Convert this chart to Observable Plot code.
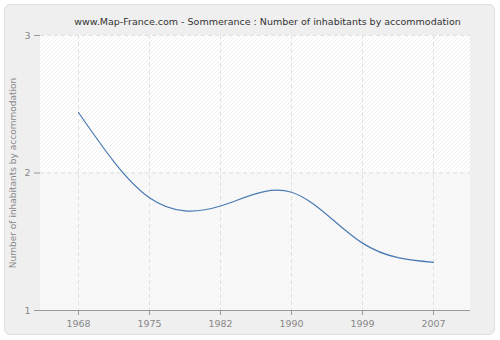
<!DOCTYPE html>
<html><head><meta charset="utf-8">
<script src="https://cdn.jsdelivr.net/npm/d3@7"></script>
<script src="https://cdn.jsdelivr.net/npm/@observablehq/plot@0.6"></script>
<style>
body{margin:0;background:#fff;}
#wrap{position:relative;width:500px;height:340px;}
#panel{position:absolute;left:4px;top:4px;width:491px;height:331px;background:#efefef;border:1px solid #dedede;border-radius:6px;box-sizing:border-box}
#chart{position:absolute;left:0;top:0}
</style></head><body>
<div id="wrap"><div id="panel"></div><div id="chart"></div></div>
<script>
const years = ["1968","1975","1982","1990","1999","2007"];
const values = [2.44, 1.82, 1.76, 1.86, 1.49, 1.35];
const yTicks = [1, 2, 3];
const titleText = "www.Map-France.com - Sommerance : Number of inhabitants by accommodation";
const yLabel = "Number of inhabitants by accommodation";

const data = years.map((y, i) => ({year: y, value: values[i]}));
const bandTop = [{y1: yTicks[1], y2: yTicks[2]}];
const bandBottom = [{y1: yTicks[0], y2: yTicks[1]}];
const font = "DejaVu Sans, Verdana, sans-serif";

const chart = Plot.plot({
  width: 500,
  height: 340,
  marginLeft: 40,
  marginRight: 30,
  marginTop: 35,
  marginBottom: 30,
  style: {background: "transparent", fontFamily: font, fontSize: "9px", color: "#888"},
  x: {type: "point", domain: years, padding: 0.5, label: null},
  y: {domain: [1, 3], ticks: yTicks, label: null, tickFormat: d => String(d)},
  marks: [
    Plot.rect(bandTop, {y1: "y1", y2: "y2", fill: "#ffffff", className: "band-top"}),
    Plot.rect(bandBottom, {y1: "y1", y2: "y2", fill: "#f8f8f8", className: "band-bottom"}),
    Plot.ruleX(years, {x: d => d, stroke: "#e0e0e0", strokeDasharray: "4,3"}),
    Plot.ruleY(yTicks.slice(1), {y: d => d, stroke: "#e0e0e0", strokeDasharray: "4,3"}),
    Plot.axisX({ticks: years, tickSize: 5, tickPadding: 5, stroke: "#999", fill: "#888", fontSize: "9.5px"}),
    Plot.axisY({ticks: yTicks, tickSize: 6, tickPadding: 4, stroke: "#999", fill: "#888", fontSize: "9.5px", tickFormat: d => String(d)}),
    Plot.ruleY([yTicks[0]], {stroke: "#999"}),
    Plot.ruleX([years[0]], {x: () => null, stroke: "#999", frameAnchor: "left"}),
    Plot.lineY(data, {x: "year", y: "value", stroke: "#4a7ab2", strokeWidth: 1.2, curve: "natural"}),
    Plot.text([titleText], {text: d => d, frameAnchor: "top", textAnchor: "middle", dy: -17, dx: 12, fill: "#333", fontSize: "9.5px"}),
    Plot.text([yLabel], {text: d => d, frameAnchor: "left", textAnchor: "middle", dx: -27, rotate: -90, fill: "#888", fontSize: "9px"})
  ]
});

const svg = d3.select(chart);
const defs = svg.insert("defs", ":first-child");
function hatch(id, bg, line) {
  const p = defs.append("pattern").attr("id", id).attr("patternUnits", "userSpaceOnUse")
    .attr("width", 4).attr("height", 4);
  p.append("rect").attr("width", 4).attr("height", 4).attr("fill", bg);
  p.append("path").attr("d", "M-1,1 l2,-2 M0,4 l4,-4 M3,5 l2,-2").attr("stroke", line).attr("stroke-width", 0.8);
}
hatch("hatchA", "#ffffff", "#ececec");
hatch("hatchB", "#f9f9f9", "#f1f1f1");
svg.selectAll(".band-top rect").attr("fill", "url(#hatchA)");
svg.selectAll(".band-bottom rect").attr("fill", "url(#hatchB)");
document.getElementById("chart").appendChild(chart);
</script>
</body></html>
